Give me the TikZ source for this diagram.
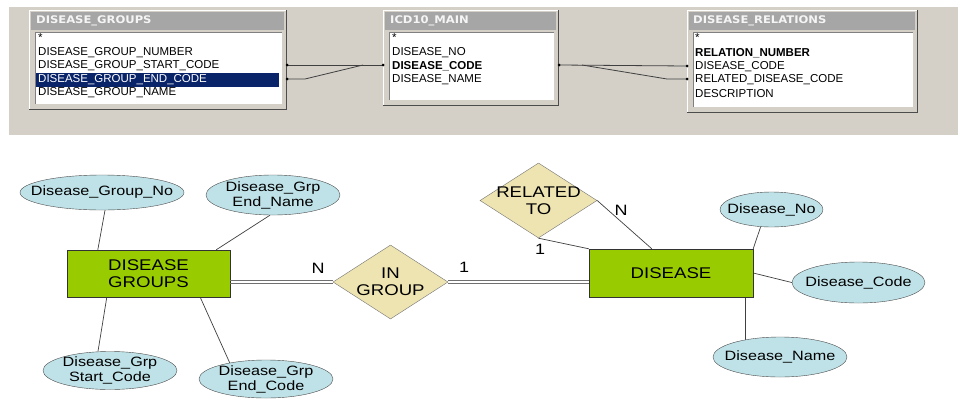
\documentclass[tikz,border=0pt]{standalone}
\usepackage{fontspec}
\setmainfont{Liberation Sans}
\newfontfamily\erfont{Liberation Sans}[FakeStretch=1.2]
\newfontfamily\ttlfont{DejaVu Sans}[FakeStretch=1.1]
\usetikzlibrary{shapes.geometric,calc}
\pgfdeclarelayer{bg}\pgfsetlayers{bg,main}
\definecolor{panel}{HTML}{D4D0C8}
\definecolor{navy}{HTML}{0A246A}
\definecolor{entgreen}{HTML}{99CC00}
\definecolor{relfill}{HTML}{EEE4B2}
\definecolor{attfill}{HTML}{BFE2E8}
\definecolor{ttlbar}{HTML}{A6A6A6}
\definecolor{dblgray}{HTML}{707070}
\tikzset{
 row/.style={anchor=west, inner sep=0pt, font=\fontsize{11.5}{12}\selectfont, text=black},
 rowb/.style={row, font=\bfseries\fontsize{11.5}{12}\selectfont},
 ttl/.style={anchor=west, inner sep=0pt, font=\ttlfont\bfseries\fontsize{10.5}{12}\selectfont, text=white!92!gray},
 entity/.style={draw=black!80, fill=entgreen, inner sep=0pt, align=center, font=\erfont\fontsize{15.5}{17}\selectfont},
 relbox/.style={diamond, draw=gray!90!black, fill=relfill, inner sep=0pt},
 reltext/.style={align=center, inner sep=0pt, font=\erfont\fontsize{15.5}{17}\selectfont},
 attr/.style={ellipse, draw=black!70, fill=attfill, inner sep=0pt},
 attrtext/.style={align=center, inner sep=0pt, font=\erfont\fontsize{13.5}{15}\selectfont},
 card/.style={inner sep=0pt, font=\erfont\fontsize{15}{17}\selectfont},
 conn/.style={draw=black!75, line width=0.7pt},
 fkline/.style={draw=black!75, line width=0.8pt},
 dblline/.style={draw=dblgray, line width=0.7pt},
 fkdot/.style={circle, fill=black, inner sep=0pt, minimum size=3pt},
}
\newcommand\dbtable[4]{%
 \fill[panel] (#1,#2) rectangle (#3,#4);
 \draw[white, line width=1pt] (#1+0.5,#4) -- (#1+0.5,#2+0.5) -- (#3,#2+0.5);
 \draw[black!70, line width=1.5pt] (#1,#4-0.75) -- (#3-0.75,#4-0.75) -- (#3-0.75,#2);
 \fill[ttlbar] (#1+2,#2+2) rectangle (#3-3,#2+20);
 \fill[white] (#1+6,#2+22) rectangle (#3-5,#4-6);
 \draw[gray, line width=1pt] (#1+6.5,#4-6) -- (#1+6.5,#2+22.5) -- (#3-5,#2+22.5);
}
\begin{document}
\begin{tikzpicture}[x=1pt,y=-1pt]
\useasboundingbox (0,0) rectangle (958,399);
\begin{pgfonlayer}{bg}
\fill[white] (0,0) rectangle (958,399);
\fill[panel] (9,7) rectangle (958,135);
\end{pgfonlayer}
% tables
\dbtable{29}{10}{287}{110}
\dbtable{383}{10}{559}{106}
\dbtable{687}{10}{918}{113}
\fill[navy] (36,73) rectangle (279,87);
\node[ttl] (t1) at (36,21) {DISEASE\_GROUPS};
\node[row] (t1r0) at (38,38) {*};
\node[row] (t1r1) at (38,53) {DISEASE\_GROUP\_NUMBER};
\node[row] (t1r2) at (38,66) {DISEASE\_GROUP\_START\_CODE};
\node[row, text=white] (t1r3) at (38,80) {DISEASE\_GROUP\_END\_CODE};
\node[row] (t1r4) at (38,93) {DISEASE\_GROUP\_NAME};
\node[ttl] (t2) at (390,21) {ICD10\_MAIN};
\node[row] (t2r0) at (392,38) {*};
\node[row] (t2r1) at (392,53) {DISEASE\_NO};
\node[rowb] (t2r2) at (392,66) {DISEASE\_CODE};
\node[row] (t2r3) at (392,80) {DISEASE\_NAME};
\node[ttl] (t3) at (693,21) {DISEASE\_RELATIONS};
\node[row] (t3r0) at (695,38) {*};
\node[rowb] (t3r1) at (695,53) {RELATION\_NUMBER};
\node[row] (t3r2) at (695,67) {DISEASE\_CODE};
\node[row] (t3r3) at (695,80) {RELATED\_DISEASE\_CODE};
\node[row] (t3r4) at (695,94) {DESCRIPTION};
% table links
\coordinate (g1) at (287,65);
\coordinate (g2) at (287,79);
\coordinate (m1) at (383,65);
\coordinate (m2) at (559,65);
\coordinate (r1) at (687,66);
\coordinate (r2) at (687,79);
\coordinate (jl) at (363,65);
\coordinate (jr) at (582,65);
\draw[fkline] (g1) -- (m1);
\draw[fkline] (g2) -- ++(18,0) -- (jl);
\draw[fkline] (m2) -- (r1);
\draw[fkline] (jr) -- (667,79) -- (r2);
\foreach \p in {g1,g2,m1,m2,r1,r2} \node[fkdot] at (\p) {};
% ER diagram
\node[entity, minimum width=163pt, minimum height=47pt] (dg) at (148.5,273.5) {DISEASE\\GROUPS};
\node[entity, minimum width=164pt, minimum height=48pt] (dis) at (671,273) {DISEASE};
\node[relbox, minimum width=115pt, minimum height=74pt, label={[reltext]center:{IN\\GROUP}}] (ing) at (390.5,282) {};
\node[relbox, minimum width=117pt, minimum height=75pt, label={[reltext]center:{RELATED\\TO}}] (rel) at (538.5,200.5) {};
\node[attr, minimum width=164pt, minimum height=35pt, label={[attrtext]center:Disease\_Group\_No}] (gno) at (102,192.5) {};
\node[attr, minimum width=134pt, minimum height=40pt, label={[attrtext]center:{Disease\_Grp\\End\_Name}}] (gendn) at (273,195) {};
\node[attr, minimum width=134pt, minimum height=38pt, label={[attrtext]center:{Disease\_Grp\\Start\_Code}}] (gstart) at (110,370.5) {};
\node[attr, minimum width=134pt, minimum height=38pt, label={[attrtext]center:{Disease\_Grp\\End\_Code}}] (gendc) at (266,379) {};
\node[attr, minimum width=103pt, minimum height=35pt, label={[attrtext]center:Disease\_No}] (dno) at (771.5,209.5) {};
\node[attr, minimum width=133pt, minimum height=41pt, label={[attrtext]center:Disease\_Code}] (dcode) at (858.5,282.5) {};
\node[attr, minimum width=134pt, minimum height=40pt, label={[attrtext]center:Disease\_Name}] (dname) at (780,357) {};
\node[card] (n1) at (318,268) {N};
\node[card] (o1) at (464,267) {1};
\node[card] (o2) at (540,249) {1};
\node[card] (n2) at (621,210) {N};
% double lines (IN GROUP links)
\draw[dblline] ([yshift=1.6pt]dg.east |- ing.west) -- ([yshift=1.6pt]ing.west);
\draw[dblline] ([yshift=-1.6pt]dg.east |- ing.west) -- ([yshift=-1.6pt]ing.west);
\draw[dblline] ([yshift=1.6pt]ing.east) -- ([yshift=1.6pt]dis.west |- ing.east);
\draw[dblline] ([yshift=-1.6pt]ing.east) -- ([yshift=-1.6pt]dis.west |- ing.east);
\begin{pgfonlayer}{bg}
\draw[conn] ([xshift=3pt]gno.south) -- ([xshift=31pt]dg.north west);
\draw[conn] ([xshift=-3pt]gendn.south) -- ([xshift=-14pt]dg.north east);
\draw[conn] ([xshift=40pt]dg.south west) -- ([xshift=-12pt]gstart.north);
\draw[conn] ([xshift=-30pt]dg.south east) -- ($(gendc.center)+(-29,0)$);
\draw[conn] (dis.north east) -- ([xshift=-11pt]dno.south);
\draw[conn] (dis.east) -- (dcode.west);
\draw[conn] ([xshift=-8pt]dis.south east) -- ([xshift=-8pt]dis.south east |- dname.center);
\draw[conn] (rel.south) -- (dis.north west);
\draw[conn] (rel.east) -- ([xshift=63pt]dis.north west);
\end{pgfonlayer}
\end{tikzpicture}
\end{document}
